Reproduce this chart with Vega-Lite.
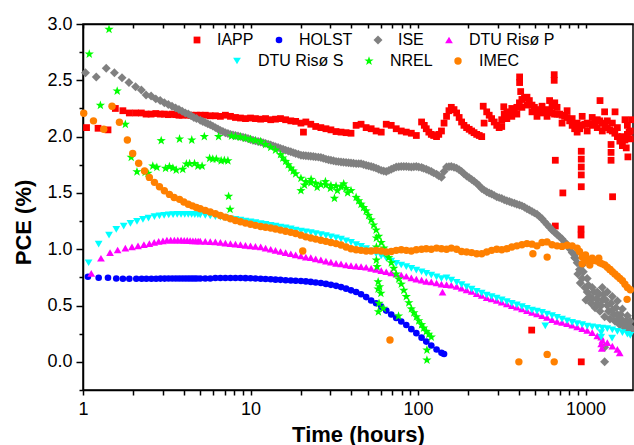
{
"$schema":"https://vega.github.io/schema/vega-lite/v6.json",
"width":550,"height":366,
"autosize":{"type":"none"},
"padding":{"left":83,"top":24,"right":1,"bottom":55},
"background":"white",
"config":{"view":{"stroke":"black","strokeWidth":1.5},"font":"Liberation Sans"},
"data":{"values":[
{"s":"IAPP","t":1.05,"p":2.08},{"s":"IAPP","t":1.23,"p":2.074},{"s":"IAPP","t":1.41,"p":2.06},{"s":"IAPP","t":1.56,"p":2.25},{"s":"IAPP","t":1.73,"p":2.23},{"s":"IAPP","t":1.89,"p":2.21},{"s":"IAPP","t":2.06,"p":2.21},{"s":"IAPP","t":2.23,"p":2.21},{"s":"IAPP","t":2.38,"p":2.2},{"s":"IAPP","t":2.55,"p":2.2},{"s":"IAPP","t":2.72,"p":2.205},{"s":"IAPP","t":2.89,"p":2.2},{"s":"IAPP","t":3.06,"p":2.2},{"s":"IAPP","t":3.23,"p":2.195},{"s":"IAPP","t":3.4,"p":2.2},{"s":"IAPP","t":3.57,"p":2.195},{"s":"IAPP","t":3.74,"p":2.19},{"s":"IAPP","t":3.91,"p":2.19},{"s":"IAPP","t":4.08,"p":2.195},{"s":"IAPP","t":4.25,"p":2.19},{"s":"IAPP","t":4.42,"p":2.19},{"s":"IAPP","t":4.59,"p":2.185},{"s":"IAPP","t":4.76,"p":2.19},
{"s":"IAPP","t":5.01,"p":2.19},{"s":"IAPP","t":5.37,"p":2.19},{"s":"IAPP","t":5.75,"p":2.185},{"s":"IAPP","t":6.17,"p":2.185},{"s":"IAPP","t":6.61,"p":2.18},{"s":"IAPP","t":7.08,"p":2.19},{"s":"IAPP","t":7.59,"p":2.18},{"s":"IAPP","t":8.13,"p":2.17},{"s":"IAPP","t":8.71,"p":2.165},{"s":"IAPP","t":9.33,"p":2.16},{"s":"IAPP","t":10,"p":2.165},{"s":"IAPP","t":10.7,"p":2.16},{"s":"IAPP","t":11.5,"p":2.155},{"s":"IAPP","t":12.3,"p":2.16},{"s":"IAPP","t":13.2,"p":2.15},{"s":"IAPP","t":14.1,"p":2.155},{"s":"IAPP","t":15.1,"p":2.16},{"s":"IAPP","t":16.2,"p":2.15},{"s":"IAPP","t":17.4,"p":2.14},{"s":"IAPP","t":18.6,"p":2.135},{"s":"IAPP","t":20,"p":2.12},{"s":"IAPP","t":21.4,"p":2.13},{"s":"IAPP","t":22.9,"p":2.11},{"s":"IAPP","t":24.5,"p":2.09},{"s":"IAPP","t":26.3,"p":2.08},{"s":"IAPP","t":28.2,"p":2.07},{"s":"IAPP","t":30.2,"p":2.06},{"s":"IAPP","t":32.4,"p":2.045},{"s":"IAPP","t":34.7,"p":2.04},{"s":"IAPP","t":37.2,"p":2.035},{"s":"IAPP","t":39.8,"p":2.03},{"s":"IAPP","t":42.7,"p":2.1},{"s":"IAPP","t":45.7,"p":2.11},{"s":"IAPP","t":49,"p":2.08},{"s":"IAPP","t":52.5,"p":2.07},{"s":"IAPP","t":56.2,"p":2.05},{"s":"IAPP","t":60.3,"p":2.04},{"s":"IAPP","t":64.6,"p":2.11},{"s":"IAPP","t":69.2,"p":2.1},{"s":"IAPP","t":74.1,"p":2.07},{"s":"IAPP","t":79.4,"p":2.05},{"s":"IAPP","t":85.1,"p":2.04},{"s":"IAPP","t":91.2,"p":2.03},{"s":"IAPP","t":97.7,"p":2.01},{"s":"IAPP","t":105,"p":2.13},{"s":"IAPP","t":112,"p":2.07},{"s":"IAPP","t":120,"p":2.02},{"s":"IAPP","t":129,"p":2.0},{"s":"IAPP","t":138,"p":2.05},{"s":"IAPP","t":148,"p":2.18},{"s":"IAPP","t":158,"p":2.26},{"s":"IAPP","t":170,"p":2.21},{"s":"IAPP","t":182,"p":2.13},{"s":"IAPP","t":195,"p":2.08},{"s":"IAPP","t":209,"p":2.05},{"s":"IAPP","t":224,"p":2.02},{"s":"IAPP","t":240,"p":2.0},{"s":"IAPP","t":257,"p":2.22},{"s":"IAPP","t":275,"p":2.16},{"s":"IAPP","t":295,"p":2.1},{"s":"IAPP","t":316,"p":2.09},{"s":"IAPP","t":339,"p":2.22},{"s":"IAPP","t":363,"p":2.18},{"s":"IAPP","t":389,"p":2.26},{"s":"IAPP","t":417,"p":2.33},{"s":"IAPP","t":447,"p":2.35},{"s":"IAPP","t":479,"p":2.28},{"s":"IAPP","t":513,"p":2.24},{"s":"IAPP","t":550,"p":2.21},{"s":"IAPP","t":589,"p":2.24},{"s":"IAPP","t":631,"p":2.21},{"s":"IAPP","t":676,"p":2.2},{"s":"IAPP","t":724,"p":2.19},{"s":"IAPP","t":776,"p":2.17},{"s":"IAPP","t":832,"p":2.1},{"s":"IAPP","t":891,"p":2.04},{"s":"IAPP","t":955,"p":2.1},{"s":"IAPP","t":1023,"p":2.12},{"s":"IAPP","t":1096,"p":2.1},{"s":"IAPP","t":1175,"p":2.15},{"s":"IAPP","t":1259,"p":2.12},{"s":"IAPP","t":1349,"p":2.08},{"s":"IAPP","t":1445,"p":2.05},{"s":"IAPP","t":1549,"p":2.0},{"s":"IAPP","t":1660,"p":1.92},{"s":"IAPP","t":1778,"p":2.02},{"s":"IAPP","t":1850,"p":2.05},
{"s":"IAPP","t":109,"p":2.1},{"s":"IAPP","t":116,"p":2.04},{"s":"IAPP","t":124,"p":2.01},{"s":"IAPP","t":133,"p":2.02},{"s":"IAPP","t":143,"p":2.12},{"s":"IAPP","t":153,"p":2.23},{"s":"IAPP","t":164,"p":2.24},{"s":"IAPP","t":176,"p":2.17},{"s":"IAPP","t":188,"p":2.1},{"s":"IAPP","t":202,"p":2.065},{"s":"IAPP","t":216,"p":2.035},{"s":"IAPP","t":232,"p":2.01},{"s":"IAPP","t":248,"p":2.12},{"s":"IAPP","t":266,"p":2.19},{"s":"IAPP","t":285,"p":2.13},{"s":"IAPP","t":305,"p":2.08},{"s":"IAPP","t":327,"p":2.2},{"s":"IAPP","t":351,"p":2.2},{"s":"IAPP","t":376,"p":2.22},{"s":"IAPP","t":403,"p":2.3},{"s":"IAPP","t":432,"p":2.34},{"s":"IAPP","t":462,"p":2.32},{"s":"IAPP","t":495,"p":2.26},{"s":"IAPP","t":531,"p":2.22},{"s":"IAPP","t":569,"p":2.23},{"s":"IAPP","t":610,"p":2.22},{"s":"IAPP","t":653,"p":2.2},{"s":"IAPP","t":700,"p":2.2},{"s":"IAPP","t":750,"p":2.18},{"s":"IAPP","t":804,"p":2.14},{"s":"IAPP","t":861,"p":2.07},{"s":"IAPP","t":923,"p":2.07},{"s":"IAPP","t":989,"p":2.11},{"s":"IAPP","t":1059,"p":2.11},{"s":"IAPP","t":1135,"p":2.13},{"s":"IAPP","t":1216,"p":2.14},{"s":"IAPP","t":1303,"p":2.1},{"s":"IAPP","t":1396,"p":2.06},{"s":"IAPP","t":1496,"p":2.03},{"s":"IAPP","t":1603,"p":1.96},{"s":"IAPP","t":1718,"p":1.97},{"s":"IAPP","t":1820,"p":2.04},
{"s":"IAPP","t":316,"p":2.15},{"s":"IAPP","t":363,"p":2.25},{"s":"IAPP","t":417,"p":2.26},{"s":"IAPP","t":479,"p":2.22},{"s":"IAPP","t":550,"p":2.27},{"s":"IAPP","t":631,"p":2.27},{"s":"IAPP","t":724,"p":2.12},{"s":"IAPP","t":832,"p":2.16},{"s":"IAPP","t":955,"p":2.18},{"s":"IAPP","t":1096,"p":2.17},{"s":"IAPP","t":1259,"p":2.05},{"s":"IAPP","t":1445,"p":2.12},{"s":"IAPP","t":1660,"p":2.0},{"s":"IAPP","t":1850,"p":1.98},{"s":"IAPP","t":339,"p":2.16},{"s":"IAPP","t":389,"p":2.2},{"s":"IAPP","t":447,"p":2.28},{"s":"IAPP","t":513,"p":2.18},{"s":"IAPP","t":589,"p":2.18},{"s":"IAPP","t":676,"p":2.26},{"s":"IAPP","t":776,"p":2.23},{"s":"IAPP","t":891,"p":2.12},{"s":"IAPP","t":1023,"p":2.05},{"s":"IAPP","t":1175,"p":2.08},{"s":"IAPP","t":1349,"p":2.14},{"s":"IAPP","t":1549,"p":2.08},{"s":"IAPP","t":1778,"p":2.1},
{"s":"IAPP","t":20.7,"p":2.04},{"s":"IAPP","t":245,"p":2.27},{"s":"IAPP","t":325,"p":2.265},{"s":"IAPP","t":404,"p":2.53},{"s":"IAPP","t":404,"p":2.48},{"s":"IAPP","t":410,"p":2.4},{"s":"IAPP","t":650,"p":2.55},{"s":"IAPP","t":650,"p":2.5},{"s":"IAPP","t":655,"p":2.3},{"s":"IAPP","t":610,"p":2.32},{"s":"IAPP","t":1220,"p":2.32},{"s":"IAPP","t":1300,"p":2.22},{"s":"IAPP","t":1500,"p":2.22},{"s":"IAPP","t":1720,"p":2.15},{"s":"IAPP","t":1880,"p":2.15},{"s":"IAPP","t":1750,"p":1.9},
{"s":"IAPP","t":660,"p":1.79},{"s":"IAPP","t":732,"p":1.5},{"s":"IAPP","t":943,"p":1.87},{"s":"IAPP","t":943,"p":1.8},{"s":"IAPP","t":943,"p":1.73},{"s":"IAPP","t":943,"p":1.66},{"s":"IAPP","t":943,"p":1.555},{"s":"IAPP","t":1420,"p":1.93},{"s":"IAPP","t":1420,"p":1.86},{"s":"IAPP","t":1420,"p":1.79},{"s":"IAPP","t":1450,"p":1.466},{"s":"IAPP","t":1790,"p":1.82},{"s":"IAPP","t":660,"p":1.206},{"s":"IAPP","t":940,"p":1.18},{"s":"IAPP","t":940,"p":1.126},{"s":"IAPP","t":477,"p":0.282},{"s":"IAPP","t":943,"p":0.0},
{"s":"HOLST","t":1.07,"p":0.756},{"s":"HOLST","t":1.24,"p":0.747},{"s":"HOLST","t":1.41,"p":0.747},{"s":"HOLST","t":1.58,"p":0.74},{"s":"HOLST","t":1.73,"p":0.738},{"s":"HOLST","t":1.89,"p":0.738},{"s":"HOLST","t":2.08,"p":0.738},{"s":"HOLST","t":2.24,"p":0.738},{"s":"HOLST","t":2.39,"p":0.738},{"s":"HOLST","t":2.56,"p":0.738},{"s":"HOLST","t":2.73,"p":0.738},{"s":"HOLST","t":2.9,"p":0.739},{"s":"HOLST","t":3.07,"p":0.739},{"s":"HOLST","t":3.24,"p":0.74},{"s":"HOLST","t":3.41,"p":0.74},{"s":"HOLST","t":3.58,"p":0.74},{"s":"HOLST","t":3.75,"p":0.74},{"s":"HOLST","t":3.92,"p":0.74},{"s":"HOLST","t":4.09,"p":0.74},{"s":"HOLST","t":4.26,"p":0.74},{"s":"HOLST","t":4.43,"p":0.74},{"s":"HOLST","t":4.6,"p":0.74},{"s":"HOLST","t":4.77,"p":0.74},
{"s":"HOLST","t":5.01,"p":0.74},{"s":"HOLST","t":5.37,"p":0.74},{"s":"HOLST","t":5.75,"p":0.74},{"s":"HOLST","t":6.17,"p":0.745},{"s":"HOLST","t":6.61,"p":0.745},{"s":"HOLST","t":7.08,"p":0.745},{"s":"HOLST","t":7.59,"p":0.745},{"s":"HOLST","t":8.13,"p":0.745},{"s":"HOLST","t":8.71,"p":0.745},{"s":"HOLST","t":9.33,"p":0.743},{"s":"HOLST","t":10,"p":0.742},{"s":"HOLST","t":10.7,"p":0.74},{"s":"HOLST","t":11.5,"p":0.738},{"s":"HOLST","t":12.3,"p":0.736},{"s":"HOLST","t":13.2,"p":0.733},{"s":"HOLST","t":14.1,"p":0.73},{"s":"HOLST","t":15.1,"p":0.728},{"s":"HOLST","t":16.2,"p":0.725},{"s":"HOLST","t":17.4,"p":0.722},{"s":"HOLST","t":18.6,"p":0.72},{"s":"HOLST","t":20,"p":0.718},{"s":"HOLST","t":21.4,"p":0.714},{"s":"HOLST","t":22.9,"p":0.71},{"s":"HOLST","t":24.5,"p":0.705},{"s":"HOLST","t":26.3,"p":0.7},{"s":"HOLST","t":28.2,"p":0.692},{"s":"HOLST","t":30.2,"p":0.684},{"s":"HOLST","t":32.4,"p":0.675},{"s":"HOLST","t":34.7,"p":0.664},{"s":"HOLST","t":37.2,"p":0.65},{"s":"HOLST","t":39.8,"p":0.635},{"s":"HOLST","t":42.7,"p":0.62},{"s":"HOLST","t":45.7,"p":0.6},{"s":"HOLST","t":49,"p":0.575},{"s":"HOLST","t":52.5,"p":0.545},{"s":"HOLST","t":56.2,"p":0.52},{"s":"HOLST","t":60.3,"p":0.49},{"s":"HOLST","t":64.6,"p":0.455},{"s":"HOLST","t":69.2,"p":0.42},{"s":"HOLST","t":74.1,"p":0.39},{"s":"HOLST","t":79.4,"p":0.358},{"s":"HOLST","t":85.1,"p":0.327},{"s":"HOLST","t":91.2,"p":0.29},{"s":"HOLST","t":97.7,"p":0.255},{"s":"HOLST","t":105,"p":0.215},{"s":"HOLST","t":112,"p":0.18},{"s":"HOLST","t":120,"p":0.145},{"s":"HOLST","t":129,"p":0.11},{"s":"HOLST","t":138,"p":0.08},{"s":"HOLST","t":143,"p":0.07},
{"s":"ISE","t":1.035,"p":2.567},{"s":"ISE","t":1.2,"p":2.53},{"s":"ISE","t":1.376,"p":2.607},{"s":"ISE","t":1.54,"p":2.567},{"s":"ISE","t":1.71,"p":2.523},{"s":"ISE","t":1.88,"p":2.48},{"s":"ISE","t":2.06,"p":2.443},{"s":"ISE","t":2.23,"p":2.414},{"s":"ISE","t":2.38,"p":2.37},{"s":"ISE","t":2.55,"p":2.36},{"s":"ISE","t":2.72,"p":2.335},{"s":"ISE","t":2.89,"p":2.32},{"s":"ISE","t":3.06,"p":2.3},{"s":"ISE","t":3.23,"p":2.285},{"s":"ISE","t":3.4,"p":2.27},{"s":"ISE","t":3.57,"p":2.255},{"s":"ISE","t":3.74,"p":2.24},{"s":"ISE","t":3.91,"p":2.225},{"s":"ISE","t":4.08,"p":2.21},{"s":"ISE","t":4.25,"p":2.2},{"s":"ISE","t":4.42,"p":2.185},{"s":"ISE","t":4.59,"p":2.17},{"s":"ISE","t":4.76,"p":2.16},
{"s":"ISE","t":5.01,"p":2.145},{"s":"ISE","t":5.37,"p":2.125},{"s":"ISE","t":5.75,"p":2.105},{"s":"ISE","t":6.17,"p":2.08},{"s":"ISE","t":6.61,"p":2.055},{"s":"ISE","t":7.08,"p":2.035},{"s":"ISE","t":7.59,"p":2.02},{"s":"ISE","t":8.13,"p":2.01},{"s":"ISE","t":8.71,"p":2.0},{"s":"ISE","t":9.33,"p":1.99},{"s":"ISE","t":10,"p":1.975},{"s":"ISE","t":10.7,"p":1.962},{"s":"ISE","t":11.5,"p":1.952},{"s":"ISE","t":12.3,"p":1.94},{"s":"ISE","t":13.2,"p":1.925},{"s":"ISE","t":14.1,"p":1.91},{"s":"ISE","t":15.1,"p":1.895},{"s":"ISE","t":16.2,"p":1.88},{"s":"ISE","t":17.4,"p":1.865},{"s":"ISE","t":18.6,"p":1.85},{"s":"ISE","t":20,"p":1.835},{"s":"ISE","t":21.4,"p":1.83},{"s":"ISE","t":22.9,"p":1.825},{"s":"ISE","t":24.5,"p":1.82},{"s":"ISE","t":26.3,"p":1.815},{"s":"ISE","t":28.2,"p":1.8},{"s":"ISE","t":30.2,"p":1.79},{"s":"ISE","t":32.4,"p":1.78},{"s":"ISE","t":34.7,"p":1.775},{"s":"ISE","t":37.2,"p":1.77},{"s":"ISE","t":39.8,"p":1.765},{"s":"ISE","t":42.7,"p":1.76},{"s":"ISE","t":45.7,"p":1.76},{"s":"ISE","t":49,"p":1.745},{"s":"ISE","t":52.5,"p":1.735},{"s":"ISE","t":56.2,"p":1.72},{"s":"ISE","t":60.3,"p":1.7},{"s":"ISE","t":64.6,"p":1.69},{"s":"ISE","t":69.2,"p":1.71},{"s":"ISE","t":74.1,"p":1.73},{"s":"ISE","t":79.4,"p":1.735},{"s":"ISE","t":85.1,"p":1.735},{"s":"ISE","t":91.2,"p":1.73},{"s":"ISE","t":97.7,"p":1.735},{"s":"ISE","t":105,"p":1.725},{"s":"ISE","t":112,"p":1.71},{"s":"ISE","t":120,"p":1.69},{"s":"ISE","t":129,"p":1.665},{"s":"ISE","t":138,"p":1.64},{"s":"ISE","t":148,"p":1.73},{"s":"ISE","t":158,"p":1.735},{"s":"ISE","t":170,"p":1.72},{"s":"ISE","t":182,"p":1.69},{"s":"ISE","t":195,"p":1.65},{"s":"ISE","t":209,"p":1.62},{"s":"ISE","t":224,"p":1.585},{"s":"ISE","t":240,"p":1.54},{"s":"ISE","t":257,"p":1.51},{"s":"ISE","t":275,"p":1.49},{"s":"ISE","t":295,"p":1.465},{"s":"ISE","t":316,"p":1.45},{"s":"ISE","t":339,"p":1.43},{"s":"ISE","t":363,"p":1.415},{"s":"ISE","t":389,"p":1.4},{"s":"ISE","t":417,"p":1.385},{"s":"ISE","t":447,"p":1.36},{"s":"ISE","t":479,"p":1.335},{"s":"ISE","t":513,"p":1.31},{"s":"ISE","t":550,"p":1.27},{"s":"ISE","t":589,"p":1.22},{"s":"ISE","t":631,"p":1.17},{"s":"ISE","t":676,"p":1.13},{"s":"ISE","t":724,"p":1.09},{"s":"ISE","t":776,"p":1.04},{"s":"ISE","t":832,"p":0.97},{"s":"ISE","t":891,"p":0.88},{"s":"ISE","t":955,"p":0.74},{"s":"ISE","t":1023,"p":0.62},{"s":"ISE","t":1096,"p":0.56},{"s":"ISE","t":1175,"p":0.52},{"s":"ISE","t":1259,"p":0.55},{"s":"ISE","t":1349,"p":0.5},{"s":"ISE","t":1445,"p":0.46},{"s":"ISE","t":1549,"p":0.42},{"s":"ISE","t":1660,"p":0.37},{"s":"ISE","t":1778,"p":0.33},{"s":"ISE","t":1850,"p":0.31},
{"s":"ISE","t":5.19,"p":2.135},{"s":"ISE","t":5.56,"p":2.115},{"s":"ISE","t":5.96,"p":2.093},{"s":"ISE","t":6.39,"p":2.068},{"s":"ISE","t":6.84,"p":2.045},{"s":"ISE","t":7.33,"p":2.028},{"s":"ISE","t":7.86,"p":2.015},{"s":"ISE","t":8.42,"p":2.005},{"s":"ISE","t":9.02,"p":1.995},{"s":"ISE","t":9.66,"p":1.983},{"s":"ISE","t":10.35,"p":1.968},{"s":"ISE","t":11.1,"p":1.957},{"s":"ISE","t":11.9,"p":1.946},{"s":"ISE","t":12.75,"p":1.933},{"s":"ISE","t":13.65,"p":1.918},{"s":"ISE","t":14.6,"p":1.903},{"s":"ISE","t":15.65,"p":1.888},{"s":"ISE","t":16.8,"p":1.873},{"s":"ISE","t":18,"p":1.858},{"s":"ISE","t":19.3,"p":1.843},{"s":"ISE","t":20.7,"p":1.833},{"s":"ISE","t":22.15,"p":1.828},{"s":"ISE","t":23.7,"p":1.823},{"s":"ISE","t":25.4,"p":1.818},{"s":"ISE","t":27.2,"p":1.808},{"s":"ISE","t":29.2,"p":1.795},{"s":"ISE","t":31.3,"p":1.785},{"s":"ISE","t":33.5,"p":1.778},{"s":"ISE","t":35.9,"p":1.773},{"s":"ISE","t":38.5,"p":1.768},{"s":"ISE","t":41.2,"p":1.763},{"s":"ISE","t":44.2,"p":1.76},{"s":"ISE","t":47.3,"p":1.753},{"s":"ISE","t":50.7,"p":1.74},{"s":"ISE","t":54.3,"p":1.728},{"s":"ISE","t":58.2,"p":1.71},{"s":"ISE","t":62.4,"p":1.695},{"s":"ISE","t":66.9,"p":1.7},{"s":"ISE","t":71.6,"p":1.72},{"s":"ISE","t":76.7,"p":1.733},{"s":"ISE","t":82.2,"p":1.735},{"s":"ISE","t":88.1,"p":1.733},{"s":"ISE","t":94.4,"p":1.733},{"s":"ISE","t":101,"p":1.73},{"s":"ISE","t":108,"p":1.718},{"s":"ISE","t":116,"p":1.7},{"s":"ISE","t":124,"p":1.678},{"s":"ISE","t":133,"p":1.652},{"s":"ISE","t":143,"p":1.69},{"s":"ISE","t":153,"p":1.733},{"s":"ISE","t":164,"p":1.728},{"s":"ISE","t":176,"p":1.705},{"s":"ISE","t":188,"p":1.67},{"s":"ISE","t":202,"p":1.635},{"s":"ISE","t":216,"p":1.603},{"s":"ISE","t":232,"p":1.563},{"s":"ISE","t":248,"p":1.525},{"s":"ISE","t":266,"p":1.5},{"s":"ISE","t":285,"p":1.478},{"s":"ISE","t":305,"p":1.458},{"s":"ISE","t":327,"p":1.44},{"s":"ISE","t":351,"p":1.423},{"s":"ISE","t":376,"p":1.408},{"s":"ISE","t":403,"p":1.393},{"s":"ISE","t":432,"p":1.373},{"s":"ISE","t":462,"p":1.348},{"s":"ISE","t":495,"p":1.323},{"s":"ISE","t":531,"p":1.29},{"s":"ISE","t":569,"p":1.245},{"s":"ISE","t":610,"p":1.195},{"s":"ISE","t":653,"p":1.15},{"s":"ISE","t":700,"p":1.11},{"s":"ISE","t":750,"p":1.065},{"s":"ISE","t":804,"p":1.005},{"s":"ISE","t":861,"p":0.925},
{"s":"ISE","t":860,"p":0.95},{"s":"ISE","t":920,"p":0.82},{"s":"ISE","t":955,"p":0.86},{"s":"ISE","t":990,"p":0.66},{"s":"ISE","t":1023,"p":0.74},{"s":"ISE","t":1060,"p":0.58},{"s":"ISE","t":1096,"p":0.66},{"s":"ISE","t":1140,"p":0.48},{"s":"ISE","t":1175,"p":0.62},{"s":"ISE","t":1220,"p":0.45},{"s":"ISE","t":1259,"p":0.66},{"s":"ISE","t":1300,"p":0.13},{"s":"ISE","t":1300,"p":0.0},{"s":"ISE","t":1300,"p":0.4},{"s":"ISE","t":1349,"p":0.62},{"s":"ISE","t":1400,"p":0.38},{"s":"ISE","t":1445,"p":0.58},{"s":"ISE","t":1500,"p":0.36},{"s":"ISE","t":1549,"p":0.54},{"s":"ISE","t":1600,"p":0.33},{"s":"ISE","t":1660,"p":0.47},{"s":"ISE","t":1720,"p":0.3},{"s":"ISE","t":1778,"p":0.41},{"s":"ISE","t":1820,"p":0.28},{"s":"ISE","t":1850,"p":0.36},
{"s":"ISE","t":870,"p":0.92},{"s":"ISE","t":900,"p":0.78},{"s":"ISE","t":930,"p":0.7},{"s":"ISE","t":970,"p":0.8},{"s":"ISE","t":1005,"p":0.55},{"s":"ISE","t":1040,"p":0.68},{"s":"ISE","t":1080,"p":0.52},{"s":"ISE","t":1120,"p":0.62},{"s":"ISE","t":1160,"p":0.56},{"s":"ISE","t":1200,"p":0.6},{"s":"ISE","t":1240,"p":0.5},{"s":"ISE","t":1280,"p":0.6},{"s":"ISE","t":1320,"p":0.55},{"s":"ISE","t":1370,"p":0.45},{"s":"ISE","t":1420,"p":0.52},{"s":"ISE","t":1470,"p":0.42},{"s":"ISE","t":1520,"p":0.48},{"s":"ISE","t":1570,"p":0.38},{"s":"ISE","t":1620,"p":0.42},{"s":"ISE","t":1680,"p":0.34},{"s":"ISE","t":1740,"p":0.36},{"s":"ISE","t":1800,"p":0.3},{"s":"ISE","t":1880,"p":0.28},
{"s":"DTU Risø P","t":1.12,"p":0.786},{"s":"DTU Risø P","t":1.28,"p":0.92},{"s":"DTU Risø P","t":1.45,"p":0.97},{"s":"DTU Risø P","t":1.61,"p":0.993},{"s":"DTU Risø P","t":1.79,"p":1.01},{"s":"DTU Risø P","t":1.96,"p":1.02},{"s":"DTU Risø P","t":2.13,"p":1.03},{"s":"DTU Risø P","t":2.31,"p":1.04},{"s":"DTU Risø P","t":2.49,"p":1.05},{"s":"DTU Risø P","t":2.66,"p":1.06},{"s":"DTU Risø P","t":2.83,"p":1.07},{"s":"DTU Risø P","t":3.0,"p":1.075},{"s":"DTU Risø P","t":3.17,"p":1.08},{"s":"DTU Risø P","t":3.34,"p":1.08},{"s":"DTU Risø P","t":3.51,"p":1.08},{"s":"DTU Risø P","t":3.68,"p":1.08},{"s":"DTU Risø P","t":3.85,"p":1.08},{"s":"DTU Risø P","t":4.02,"p":1.078},{"s":"DTU Risø P","t":4.19,"p":1.078},{"s":"DTU Risø P","t":4.36,"p":1.076},{"s":"DTU Risø P","t":4.53,"p":1.075},{"s":"DTU Risø P","t":4.7,"p":1.074},{"s":"DTU Risø P","t":4.87,"p":1.073},
{"s":"DTU Risø P","t":5.01,"p":1.072},{"s":"DTU Risø P","t":5.37,"p":1.07},{"s":"DTU Risø P","t":5.75,"p":1.068},{"s":"DTU Risø P","t":6.17,"p":1.065},{"s":"DTU Risø P","t":6.61,"p":1.06},{"s":"DTU Risø P","t":7.08,"p":1.055},{"s":"DTU Risø P","t":7.59,"p":1.05},{"s":"DTU Risø P","t":8.13,"p":1.045},{"s":"DTU Risø P","t":8.71,"p":1.04},{"s":"DTU Risø P","t":9.33,"p":1.035},{"s":"DTU Risø P","t":10,"p":1.03},{"s":"DTU Risø P","t":10.7,"p":1.025},{"s":"DTU Risø P","t":11.5,"p":1.02},{"s":"DTU Risø P","t":12.3,"p":1.01},{"s":"DTU Risø P","t":13.2,"p":1.0},{"s":"DTU Risø P","t":14.1,"p":0.99},{"s":"DTU Risø P","t":15.1,"p":0.98},{"s":"DTU Risø P","t":16.2,"p":0.97},{"s":"DTU Risø P","t":17.4,"p":0.96},{"s":"DTU Risø P","t":18.6,"p":0.95},{"s":"DTU Risø P","t":20,"p":0.94},{"s":"DTU Risø P","t":21.4,"p":0.93},{"s":"DTU Risø P","t":22.9,"p":0.925},{"s":"DTU Risø P","t":24.5,"p":0.915},{"s":"DTU Risø P","t":26.3,"p":0.905},{"s":"DTU Risø P","t":28.2,"p":0.895},{"s":"DTU Risø P","t":30.2,"p":0.885},{"s":"DTU Risø P","t":32.4,"p":0.875},{"s":"DTU Risø P","t":34.7,"p":0.87},{"s":"DTU Risø P","t":37.2,"p":0.86},{"s":"DTU Risø P","t":39.8,"p":0.855},{"s":"DTU Risø P","t":42.7,"p":0.85},{"s":"DTU Risø P","t":45.7,"p":0.845},{"s":"DTU Risø P","t":49,"p":0.84},{"s":"DTU Risø P","t":52.5,"p":0.83},{"s":"DTU Risø P","t":56.2,"p":0.82},{"s":"DTU Risø P","t":60.3,"p":0.81},{"s":"DTU Risø P","t":64.6,"p":0.8},{"s":"DTU Risø P","t":69.2,"p":0.79},{"s":"DTU Risø P","t":74.1,"p":0.78},{"s":"DTU Risø P","t":79.4,"p":0.77},{"s":"DTU Risø P","t":85.1,"p":0.76},{"s":"DTU Risø P","t":91.2,"p":0.745},{"s":"DTU Risø P","t":97.7,"p":0.735},{"s":"DTU Risø P","t":105,"p":0.725},{"s":"DTU Risø P","t":112,"p":0.715},{"s":"DTU Risø P","t":120,"p":0.71},{"s":"DTU Risø P","t":129,"p":0.7},{"s":"DTU Risø P","t":138,"p":0.69},{"s":"DTU Risø P","t":148,"p":0.685},{"s":"DTU Risø P","t":158,"p":0.68},{"s":"DTU Risø P","t":170,"p":0.67},{"s":"DTU Risø P","t":182,"p":0.655},{"s":"DTU Risø P","t":195,"p":0.64},{"s":"DTU Risø P","t":209,"p":0.625},{"s":"DTU Risø P","t":224,"p":0.605},{"s":"DTU Risø P","t":240,"p":0.59},{"s":"DTU Risø P","t":257,"p":0.57},{"s":"DTU Risø P","t":275,"p":0.56},{"s":"DTU Risø P","t":295,"p":0.545},{"s":"DTU Risø P","t":316,"p":0.53},{"s":"DTU Risø P","t":339,"p":0.515},{"s":"DTU Risø P","t":363,"p":0.5},{"s":"DTU Risø P","t":389,"p":0.485},{"s":"DTU Risø P","t":417,"p":0.47},{"s":"DTU Risø P","t":447,"p":0.455},{"s":"DTU Risø P","t":479,"p":0.44},{"s":"DTU Risø P","t":513,"p":0.425},{"s":"DTU Risø P","t":550,"p":0.41},{"s":"DTU Risø P","t":589,"p":0.395},{"s":"DTU Risø P","t":631,"p":0.375},{"s":"DTU Risø P","t":676,"p":0.36},{"s":"DTU Risø P","t":724,"p":0.35},{"s":"DTU Risø P","t":776,"p":0.34},{"s":"DTU Risø P","t":832,"p":0.325},{"s":"DTU Risø P","t":891,"p":0.31},{"s":"DTU Risø P","t":955,"p":0.295},{"s":"DTU Risø P","t":1023,"p":0.28},{"s":"DTU Risø P","t":1096,"p":0.26},{"s":"DTU Risø P","t":1175,"p":0.23},{"s":"DTU Risø P","t":1259,"p":0.19},{"s":"DTU Risø P","t":1349,"p":0.17},{"s":"DTU Risø P","t":1445,"p":0.14},{"s":"DTU Risø P","t":1549,"p":0.11},{"s":"DTU Risø P","t":1600,"p":0.08},
{"s":"DTU Risø P","t":140,"p":0.62},{"s":"DTU Risø P","t":1240,"p":0.22},{"s":"DTU Risø P","t":1240,"p":0.16},{"s":"DTU Risø P","t":1250,"p":0.12},
{"s":"DTU Risø S","t":1.08,"p":0.88},{"s":"DTU Risø S","t":1.24,"p":1.046},{"s":"DTU Risø S","t":1.43,"p":1.126},{"s":"DTU Risø S","t":1.58,"p":1.177},{"s":"DTU Risø S","t":1.75,"p":1.206},{"s":"DTU Risø S","t":1.92,"p":1.23},{"s":"DTU Risø S","t":2.1,"p":1.248},{"s":"DTU Risø S","t":2.28,"p":1.265},{"s":"DTU Risø S","t":2.46,"p":1.277},{"s":"DTU Risø S","t":2.67,"p":1.289},{"s":"DTU Risø S","t":2.86,"p":1.296},{"s":"DTU Risø S","t":3.05,"p":1.3},{"s":"DTU Risø S","t":3.25,"p":1.305},{"s":"DTU Risø S","t":3.45,"p":1.308},{"s":"DTU Risø S","t":3.65,"p":1.31},{"s":"DTU Risø S","t":3.85,"p":1.31},{"s":"DTU Risø S","t":4.05,"p":1.31},{"s":"DTU Risø S","t":4.25,"p":1.31},{"s":"DTU Risø S","t":4.45,"p":1.31},{"s":"DTU Risø S","t":4.65,"p":1.308},{"s":"DTU Risø S","t":4.85,"p":1.306},
{"s":"DTU Risø S","t":5.01,"p":1.305},{"s":"DTU Risø S","t":5.37,"p":1.3},{"s":"DTU Risø S","t":5.75,"p":1.295},{"s":"DTU Risø S","t":6.17,"p":1.29},{"s":"DTU Risø S","t":6.61,"p":1.285},{"s":"DTU Risø S","t":7.08,"p":1.278},{"s":"DTU Risø S","t":7.59,"p":1.27},{"s":"DTU Risø S","t":8.13,"p":1.265},{"s":"DTU Risø S","t":8.71,"p":1.258},{"s":"DTU Risø S","t":9.33,"p":1.25},{"s":"DTU Risø S","t":10,"p":1.243},{"s":"DTU Risø S","t":10.7,"p":1.236},{"s":"DTU Risø S","t":11.5,"p":1.228},{"s":"DTU Risø S","t":12.3,"p":1.22},{"s":"DTU Risø S","t":13.2,"p":1.212},{"s":"DTU Risø S","t":14.1,"p":1.205},{"s":"DTU Risø S","t":15.1,"p":1.197},{"s":"DTU Risø S","t":16.2,"p":1.19},{"s":"DTU Risø S","t":17.4,"p":1.18},{"s":"DTU Risø S","t":18.6,"p":1.17},{"s":"DTU Risø S","t":20,"p":1.162},{"s":"DTU Risø S","t":21.4,"p":1.155},{"s":"DTU Risø S","t":22.9,"p":1.147},{"s":"DTU Risø S","t":24.5,"p":1.138},{"s":"DTU Risø S","t":26.3,"p":1.13},{"s":"DTU Risø S","t":28.2,"p":1.12},{"s":"DTU Risø S","t":30.2,"p":1.11},{"s":"DTU Risø S","t":32.4,"p":1.1},{"s":"DTU Risø S","t":34.7,"p":1.09},{"s":"DTU Risø S","t":37.2,"p":1.075},{"s":"DTU Risø S","t":39.8,"p":1.06},{"s":"DTU Risø S","t":42.7,"p":1.04},{"s":"DTU Risø S","t":45.7,"p":1.025},{"s":"DTU Risø S","t":49,"p":1.005},{"s":"DTU Risø S","t":52.5,"p":0.985},{"s":"DTU Risø S","t":56.2,"p":0.96},{"s":"DTU Risø S","t":60.3,"p":0.94},{"s":"DTU Risø S","t":64.6,"p":0.92},{"s":"DTU Risø S","t":69.2,"p":0.895},{"s":"DTU Risø S","t":74.1,"p":0.875},{"s":"DTU Risø S","t":79.4,"p":0.86},{"s":"DTU Risø S","t":85.1,"p":0.845},{"s":"DTU Risø S","t":91.2,"p":0.83},{"s":"DTU Risø S","t":97.7,"p":0.815},{"s":"DTU Risø S","t":105,"p":0.8},{"s":"DTU Risø S","t":112,"p":0.785},{"s":"DTU Risø S","t":120,"p":0.77},{"s":"DTU Risø S","t":129,"p":0.755},{"s":"DTU Risø S","t":138,"p":0.74},{"s":"DTU Risø S","t":148,"p":0.745},{"s":"DTU Risø S","t":158,"p":0.725},{"s":"DTU Risø S","t":170,"p":0.705},{"s":"DTU Risø S","t":182,"p":0.685},{"s":"DTU Risø S","t":195,"p":0.665},{"s":"DTU Risø S","t":209,"p":0.645},{"s":"DTU Risø S","t":224,"p":0.625},{"s":"DTU Risø S","t":240,"p":0.61},{"s":"DTU Risø S","t":257,"p":0.593},{"s":"DTU Risø S","t":275,"p":0.58},{"s":"DTU Risø S","t":295,"p":0.565},{"s":"DTU Risø S","t":316,"p":0.55},{"s":"DTU Risø S","t":339,"p":0.535},{"s":"DTU Risø S","t":363,"p":0.52},{"s":"DTU Risø S","t":389,"p":0.505},{"s":"DTU Risø S","t":417,"p":0.49},{"s":"DTU Risø S","t":447,"p":0.475},{"s":"DTU Risø S","t":479,"p":0.46},{"s":"DTU Risø S","t":513,"p":0.45},{"s":"DTU Risø S","t":550,"p":0.44},{"s":"DTU Risø S","t":589,"p":0.425},{"s":"DTU Risø S","t":631,"p":0.41},{"s":"DTU Risø S","t":676,"p":0.395},{"s":"DTU Risø S","t":724,"p":0.38},{"s":"DTU Risø S","t":776,"p":0.365},{"s":"DTU Risø S","t":832,"p":0.35},{"s":"DTU Risø S","t":891,"p":0.34},{"s":"DTU Risø S","t":955,"p":0.33},{"s":"DTU Risø S","t":1023,"p":0.318},{"s":"DTU Risø S","t":1096,"p":0.31},{"s":"DTU Risø S","t":1175,"p":0.305},{"s":"DTU Risø S","t":1259,"p":0.3},{"s":"DTU Risø S","t":1349,"p":0.295},{"s":"DTU Risø S","t":1445,"p":0.285},{"s":"DTU Risø S","t":1549,"p":0.27},{"s":"DTU Risø S","t":1660,"p":0.26},{"s":"DTU Risø S","t":1778,"p":0.245},{"s":"DTU Risø S","t":1850,"p":0.235},
{"s":"DTU Risø S","t":575,"p":0.32},{"s":"DTU Risø S","t":1440,"p":0.21},{"s":"DTU Risø S","t":1240,"p":0.26},{"s":"DTU Risø S","t":1240,"p":0.22},
{"s":"NREL","t":1.09,"p":2.733},{"s":"NREL","t":1.27,"p":2.278},{"s":"NREL","t":1.43,"p":2.953},{"s":"NREL","t":1.6,"p":2.405},{"s":"NREL","t":1.79,"p":2.109},{"s":"NREL","t":1.94,"p":1.816},{"s":"NREL","t":2.1,"p":1.688},{"s":"NREL","t":2.35,"p":1.683},{"s":"NREL","t":2.44,"p":1.674},{"s":"NREL","t":2.61,"p":1.739},{"s":"NREL","t":2.76,"p":1.727},{"s":"NREL","t":2.93,"p":1.964},{"s":"NREL","t":3.11,"p":1.718},{"s":"NREL","t":3.28,"p":1.733},{"s":"NREL","t":3.44,"p":1.72},{"s":"NREL","t":3.6,"p":1.703},{"s":"NREL","t":3.77,"p":1.979},{"s":"NREL","t":3.94,"p":1.71},{"s":"NREL","t":4.14,"p":1.757},{"s":"NREL","t":4.33,"p":1.76},{"s":"NREL","t":4.46,"p":1.97},{"s":"NREL","t":4.63,"p":1.76},{"s":"NREL","t":4.85,"p":1.739},{"s":"NREL","t":5.14,"p":1.739},{"s":"NREL","t":5.3,"p":2.0},{"s":"NREL","t":5.7,"p":1.807},{"s":"NREL","t":5.95,"p":1.8},{"s":"NREL","t":6.25,"p":1.8},{"s":"NREL","t":6.45,"p":2.0},{"s":"NREL","t":6.68,"p":1.786},{"s":"NREL","t":6.98,"p":1.79},{"s":"NREL","t":7.33,"p":1.786},{"s":"NREL","t":7.4,"p":1.47},{"s":"NREL","t":7.55,"p":1.354},
{"s":"NREL","t":7.7,"p":2.005},{"s":"NREL","t":8.13,"p":2.0},{"s":"NREL","t":8.71,"p":1.995},{"s":"NREL","t":9.33,"p":1.985},{"s":"NREL","t":10,"p":1.975},{"s":"NREL","t":10.7,"p":1.965},{"s":"NREL","t":11.5,"p":1.955},{"s":"NREL","t":12.3,"p":1.93},{"s":"NREL","t":13.2,"p":1.905},{"s":"NREL","t":14.1,"p":1.88},{"s":"NREL","t":15.1,"p":1.84},{"s":"NREL","t":16.2,"p":1.78},{"s":"NREL","t":17.4,"p":1.72},{"s":"NREL","t":18.6,"p":1.67},{"s":"NREL","t":20,"p":1.63},{"s":"NREL","t":21.4,"p":1.6},{"s":"NREL","t":22.9,"p":1.59},{"s":"NREL","t":24.5,"p":1.585},{"s":"NREL","t":26.3,"p":1.575},{"s":"NREL","t":28.2,"p":1.57},{"s":"NREL","t":30.2,"p":1.565},{"s":"NREL","t":32.4,"p":1.56},{"s":"NREL","t":34.7,"p":1.555},{"s":"NREL","t":37.2,"p":1.54},{"s":"NREL","t":39.8,"p":1.52},{"s":"NREL","t":42.7,"p":1.46},{"s":"NREL","t":45.7,"p":1.4},{"s":"NREL","t":49,"p":1.34},{"s":"NREL","t":52.5,"p":1.26},{"s":"NREL","t":56.2,"p":1.17},{"s":"NREL","t":60.3,"p":1.06},{"s":"NREL","t":64.6,"p":0.97},{"s":"NREL","t":69.2,"p":0.88},{"s":"NREL","t":74.1,"p":0.78},{"s":"NREL","t":79.4,"p":0.69},{"s":"NREL","t":85.1,"p":0.58},{"s":"NREL","t":91.2,"p":0.47},{"s":"NREL","t":97.7,"p":0.4},{"s":"NREL","t":105,"p":0.33},{"s":"NREL","t":112,"p":0.27},{"s":"NREL","t":120,"p":0.22},
{"s":"NREL","t":62.5,"p":1.01},{"s":"NREL","t":66.9,"p":0.925},{"s":"NREL","t":71.6,"p":0.83},{"s":"NREL","t":76.7,"p":0.735},{"s":"NREL","t":82.2,"p":0.635},{"s":"NREL","t":88.1,"p":0.525},{"s":"NREL","t":94.4,"p":0.435},{"s":"NREL","t":101,"p":0.365},{"s":"NREL","t":108,"p":0.3},{"s":"NREL","t":116,"p":0.245},{"s":"NREL","t":15.6,"p":1.81},{"s":"NREL","t":16.8,"p":1.75},{"s":"NREL","t":18,"p":1.695},{"s":"NREL","t":44.2,"p":1.43},{"s":"NREL","t":47.3,"p":1.37},{"s":"NREL","t":50.7,"p":1.3},{"s":"NREL","t":54.3,"p":1.215},{"s":"NREL","t":58.2,"p":1.115},
{"s":"NREL","t":20,"p":1.52},{"s":"NREL","t":21,"p":1.57},{"s":"NREL","t":23,"p":1.62},{"s":"NREL","t":25,"p":1.55},{"s":"NREL","t":28,"p":1.6},{"s":"NREL","t":30,"p":1.54},{"s":"NREL","t":31.7,"p":1.452},{"s":"NREL","t":33,"p":1.52},{"s":"NREL","t":36,"p":1.58},{"s":"NREL","t":38,"p":1.5},{"s":"NREL","t":56.4,"p":1.1},{"s":"NREL","t":56.4,"p":1.02},{"s":"NREL","t":56.4,"p":0.904},{"s":"NREL","t":57,"p":0.845},{"s":"NREL","t":57.8,"p":0.711},{"s":"NREL","t":57.7,"p":0.646},{"s":"NREL","t":60,"p":0.608},{"s":"NREL","t":59,"p":0.667},{"s":"NREL","t":58.5,"p":0.52},{"s":"NREL","t":58,"p":0.445},{"s":"NREL","t":62,"p":0.475},{"s":"NREL","t":76.5,"p":0.407},{"s":"NREL","t":113,"p":0.105},{"s":"NREL","t":113,"p":0.016},
{"s":"IMEC","t":1.01,"p":2.207},{"s":"IMEC","t":1.155,"p":2.14},{"s":"IMEC","t":1.33,"p":2.065},{"s":"IMEC","t":1.49,"p":2.27},{"s":"IMEC","t":1.65,"p":2.127},{"s":"IMEC","t":1.84,"p":1.97},{"s":"IMEC","t":1.98,"p":1.85},{"s":"IMEC","t":2.15,"p":1.763},{"s":"IMEC","t":2.33,"p":1.695},{"s":"IMEC","t":2.49,"p":1.638},{"s":"IMEC","t":2.67,"p":1.594},{"s":"IMEC","t":2.86,"p":1.555},{"s":"IMEC","t":3.06,"p":1.52},{"s":"IMEC","t":3.28,"p":1.487},{"s":"IMEC","t":3.5,"p":1.46},{"s":"IMEC","t":3.77,"p":1.443},{"s":"IMEC","t":4.0,"p":1.42},{"s":"IMEC","t":4.25,"p":1.4},{"s":"IMEC","t":4.5,"p":1.385},{"s":"IMEC","t":4.75,"p":1.37},
{"s":"IMEC","t":5.01,"p":1.36},{"s":"IMEC","t":5.37,"p":1.345},{"s":"IMEC","t":5.75,"p":1.33},{"s":"IMEC","t":6.17,"p":1.315},{"s":"IMEC","t":6.61,"p":1.3},{"s":"IMEC","t":7.08,"p":1.285},{"s":"IMEC","t":7.59,"p":1.27},{"s":"IMEC","t":8.13,"p":1.255},{"s":"IMEC","t":8.71,"p":1.244},{"s":"IMEC","t":9.33,"p":1.232},{"s":"IMEC","t":10,"p":1.222},{"s":"IMEC","t":10.7,"p":1.212},{"s":"IMEC","t":11.5,"p":1.202},{"s":"IMEC","t":12.3,"p":1.195},{"s":"IMEC","t":13.2,"p":1.188},{"s":"IMEC","t":14.1,"p":1.18},{"s":"IMEC","t":15.1,"p":1.17},{"s":"IMEC","t":16.2,"p":1.16},{"s":"IMEC","t":17.4,"p":1.15},{"s":"IMEC","t":18.6,"p":1.14},{"s":"IMEC","t":20,"p":1.125},{"s":"IMEC","t":21.4,"p":1.11},{"s":"IMEC","t":22.9,"p":1.1},{"s":"IMEC","t":24.5,"p":1.09},{"s":"IMEC","t":26.3,"p":1.08},{"s":"IMEC","t":28.2,"p":1.07},{"s":"IMEC","t":30.2,"p":1.06},{"s":"IMEC","t":32.4,"p":1.05},{"s":"IMEC","t":34.7,"p":1.037},{"s":"IMEC","t":37.2,"p":1.02},{"s":"IMEC","t":39.8,"p":1.005},{"s":"IMEC","t":42.7,"p":0.995},{"s":"IMEC","t":45.7,"p":0.99},{"s":"IMEC","t":49,"p":0.985},{"s":"IMEC","t":52.5,"p":0.985},{"s":"IMEC","t":56.2,"p":0.99},{"s":"IMEC","t":60.3,"p":0.985},{"s":"IMEC","t":64.6,"p":0.975},{"s":"IMEC","t":69.2,"p":0.98},{"s":"IMEC","t":74.1,"p":0.99},{"s":"IMEC","t":79.4,"p":0.995},{"s":"IMEC","t":85.1,"p":0.99},{"s":"IMEC","t":91.2,"p":0.985},{"s":"IMEC","t":97.7,"p":0.995},{"s":"IMEC","t":105,"p":1.0},{"s":"IMEC","t":112,"p":1.005},{"s":"IMEC","t":120,"p":1.0},{"s":"IMEC","t":129,"p":1.01},{"s":"IMEC","t":138,"p":1.005},{"s":"IMEC","t":148,"p":1.0},{"s":"IMEC","t":158,"p":1.01},{"s":"IMEC","t":170,"p":1.0},{"s":"IMEC","t":182,"p":0.98},{"s":"IMEC","t":195,"p":0.975},{"s":"IMEC","t":209,"p":0.97},{"s":"IMEC","t":224,"p":0.96},{"s":"IMEC","t":240,"p":0.96},{"s":"IMEC","t":257,"p":0.975},{"s":"IMEC","t":275,"p":0.99},{"s":"IMEC","t":295,"p":1.0},{"s":"IMEC","t":316,"p":0.995},{"s":"IMEC","t":339,"p":1.005},{"s":"IMEC","t":363,"p":1.02},{"s":"IMEC","t":389,"p":1.03},{"s":"IMEC","t":417,"p":1.04},{"s":"IMEC","t":447,"p":1.05},{"s":"IMEC","t":479,"p":1.045},{"s":"IMEC","t":513,"p":1.03},{"s":"IMEC","t":550,"p":1.06},{"s":"IMEC","t":589,"p":1.065},{"s":"IMEC","t":631,"p":1.04},{"s":"IMEC","t":676,"p":1.03},{"s":"IMEC","t":724,"p":1.025},{"s":"IMEC","t":776,"p":1.035},{"s":"IMEC","t":832,"p":1.03},{"s":"IMEC","t":891,"p":1.01},{"s":"IMEC","t":955,"p":0.93},{"s":"IMEC","t":1023,"p":0.9},{"s":"IMEC","t":1096,"p":0.92},{"s":"IMEC","t":1175,"p":0.895},{"s":"IMEC","t":1259,"p":0.87},{"s":"IMEC","t":1349,"p":0.84},{"s":"IMEC","t":1445,"p":0.8},{"s":"IMEC","t":1549,"p":0.76},{"s":"IMEC","t":1660,"p":0.72},{"s":"IMEC","t":1778,"p":0.66},
{"s":"IMEC","t":920,"p":0.98},{"s":"IMEC","t":990,"p":0.91},{"s":"IMEC","t":1060,"p":0.91},{"s":"IMEC","t":1135,"p":0.9},{"s":"IMEC","t":1216,"p":0.88},{"s":"IMEC","t":1303,"p":0.86},{"s":"IMEC","t":1396,"p":0.82},{"s":"IMEC","t":1496,"p":0.78},{"s":"IMEC","t":1603,"p":0.74},{"s":"IMEC","t":1718,"p":0.69},{"s":"IMEC","t":1850,"p":0.64},
{"s":"IMEC","t":20.5,"p":0.984},{"s":"IMEC","t":68,"p":0.194},{"s":"IMEC","t":485,"p":0.96},{"s":"IMEC","t":590,"p":0.93},{"s":"IMEC","t":400,"p":0.0},{"s":"IMEC","t":590,"p":0.066},{"s":"IMEC","t":650,"p":0.0},{"s":"IMEC","t":1770,"p":0.555},{"s":"IMEC","t":955,"p":0.87},{"s":"IMEC","t":1000,"p":0.95},{"s":"IMEC","t":1060,"p":0.86},{"s":"IMEC","t":1200,"p":0.92},{"s":"IMEC","t":1400,"p":0.82}
]},
"layer":[
{"transform":[{"filter":{"field":"s","oneOf":["IAPP","HOLST","ISE","DTU Risø P"]}}],
 "mark":{"type":"point","filled":true,"opacity":1,"strokeWidth":0},
 "encoding":{
  "x":{"field":"t","type":"quantitative","scale":{"type":"log","domain":[1,1920],"nice":false},
   "axis":{"orient":"bottom","values":[1,2,3,4,5,6,7,8,9,10,20,30,40,50,60,70,80,90,100,200,300,400,500,600,700,800,900,1000],
    "labelExpr":"indexof([1,10,100,1000], datum.value) >= 0 ? format(datum.value,'d') : ''",
    "labelOverlap":false,"labelFlush":false,"grid":false,"tickSize":5,"tickWidth":1.5,"tickColor":"black","domainColor":"black","domainWidth":1.5,
    "labelPadding":5,"labelFontSize":18,"labelColor":"black","labelFont":"Liberation Sans",
    "title":"Time (hours)","titleFontSize":22,"titleFontWeight":"bold","titleColor":"black","titleFont":"Liberation Sans","titleY":51,"titleBaseline":"alphabetic"}},
  "y":{"field":"p","type":"quantitative","scale":{"domain":[-0.25,3.0],"nice":false,"zero":false},
   "axis":{"orient":"left","values":[-0.25,0,0.25,0.5,0.75,1,1.25,1.5,1.75,2,2.25,2.5,2.75,3],
    "labelExpr":"datum.value % 0.5 === 0 ? format(datum.value,'.1f') : ''",
    "labelOverlap":false,"labelFlush":false,"grid":false,
    "tickSize":{"condition":{"test":"datum.value % 0.5 === 0","value":7},"value":4},
    "tickWidth":1.5,"tickColor":"black","domainColor":"black","domainWidth":1.5,
    "labelPadding":4,"labelFontSize":18,"labelColor":"black","labelFont":"Liberation Sans",
    "title":"PCE (%)","titleFontSize":22,"titleFontWeight":"bold","titleColor":"black","titleFont":"Liberation Sans","titleX":-53,"titleY":198,"titleAlign":"center","titleBaseline":"alphabetic","titleAngle":-90}},
  "color":{"field":"s","type":"nominal","scale":{"domain":["IAPP","HOLST","ISE","DTU Risø P"],"range":["#ff0000","#0000ff","#808080","#ff00ff"]},
   "legend":{"orient":"none","legendX":106,"legendY":8,"direction":"horizontal","title":null,"symbolStrokeWidth":0,"labelFontSize":16,"labelFont":"Liberation Sans","labelColor":"black","labelOffset":12,"columnPadding":17,"padding":0,"gridAlign":"none"}},
  "shape":{"field":"s","type":"nominal","scale":{"domain":["IAPP","HOLST","ISE","DTU Risø P"],"range":["square","circle","diamond","triangle-up"]},
   "legend":{"orient":"none","legendX":106,"legendY":8,"direction":"horizontal","title":null,"symbolStrokeWidth":0,"labelFontSize":16,"labelFont":"Liberation Sans","labelColor":"black","labelOffset":12,"columnPadding":17,"padding":0,"gridAlign":"none"}},
  "size":{"field":"s","type":"nominal","scale":{"type":"ordinal","domain":["IAPP","HOLST","ISE","DTU Risø P"],"range":[46,44,80,60]},"legend":null}
 }},
{"transform":[{"filter":{"field":"s","oneOf":["DTU Risø S","NREL","IMEC"]}}],
 "mark":{"type":"point","filled":true,"opacity":1,"strokeWidth":0},
 "encoding":{
  "x":{"field":"t","type":"quantitative",
   "axis":{"orient":"top","values":[1,2,3,4,5,6,7,8,9,10,20,30,40,50,60,70,80,90,100,200,300,400,500,600,700,800,900,1000],"labels":false,"title":null,"grid":false,"tickSize":-4,"tickWidth":1.5,"tickColor":"black","domainColor":"black","domainWidth":1.5}},
  "y":{"field":"p","type":"quantitative","axis":null},
  "color":{"field":"s","type":"nominal","scale":{"domain":["DTU Risø S","NREL","IMEC"],"range":["#00ffff","#00ff00","#ff8000"]},
   "legend":{"orient":"none","legendX":146,"legendY":29,"direction":"horizontal","title":null,"symbolStrokeWidth":0,"labelFontSize":16,"labelFont":"Liberation Sans","labelColor":"black","labelOffset":13,"columnPadding":17,"padding":0,"gridAlign":"none"}},
  "shape":{"field":"s","type":"nominal","scale":{"domain":["DTU Risø S","NREL","IMEC"],"range":["triangle-down","M0,-1L0.235,-0.324L0.951,-0.309L0.38,0.124L0.588,0.809L0,0.4L-0.588,0.809L-0.38,0.124L-0.951,-0.309L-0.235,-0.324Z","circle"]},
   "legend":{"orient":"none","legendX":146,"legendY":29,"direction":"horizontal","title":null,"symbolStrokeWidth":0,"labelFontSize":16,"labelFont":"Liberation Sans","labelColor":"black","labelOffset":13,"columnPadding":17,"padding":0,"gridAlign":"none"}},
  "size":{"field":"s","type":"nominal","scale":{"type":"ordinal","domain":["DTU Risø S","NREL","IMEC"],"range":[60,95,55]},"legend":null}
 }}
],
"resolve":{"scale":{"color":"independent","shape":"independent","size":"independent"},"axis":{"x":"independent","y":"independent"}}
}
